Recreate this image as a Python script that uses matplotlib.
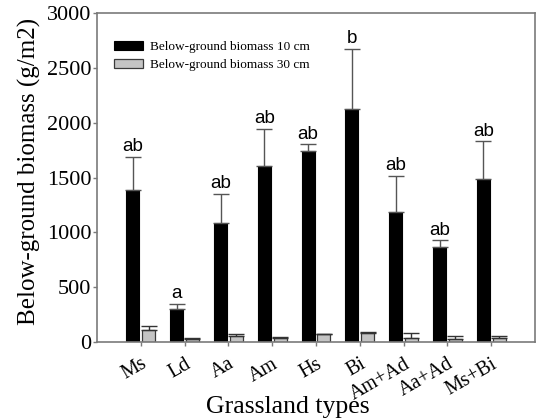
import numpy as np
import matplotlib
matplotlib.use("Agg")
import matplotlib.pyplot as plt

types = ["Ms", "Ld", "Aa", "Am", "Hs", "Bi", "Am+Ad", "Aa+Ad", "Ms+Bi"]
bio_10 = [1385, 304, 1090, 1609, 1745, 2124, 1183, 868, 1487]
err_10 = [305, 47, 263, 338, 60, 551, 332, 62, 345]
bio_30 = [107, 27, 58, 40, 70, 80, 40, 31, 40]
err_30 = [43, 10, 19, 5, 7, 12, 40, 27, 12]
letters = ["ab", "a", "ab", "ab", "ab", "b", "ab", "ab", "ab"]

serif = ["Liberation Serif", "DejaVu Serif"]
sans = ["Liberation Sans", "DejaVu Sans"]
grey = "#7a7a7a"

fig = plt.figure(figsize=(5.39, 4.19), dpi=100)
ax = fig.add_axes([97 / 539, 77 / 419, 438 / 539, 328.7 / 419])

x = np.arange(len(types))
w = 0.3
ax.bar(x - 0.18, bio_10, w, color="black", edgecolor="black", linewidth=0.8,
       label="Below-ground biomass 10 cm")
ax.bar(x + 0.18, bio_30, w, color="#c4c4c4", edgecolor="#3a3a3a", linewidth=0.9,
       label="Below-ground biomass 30 cm")
ax.errorbar(x - 0.18, bio_10, yerr=[np.zeros(len(x)), err_10], fmt="none",
            ecolor="#555555", elinewidth=1.0, capsize=5.5, capthick=1.0)
ax.errorbar(x + 0.18, bio_30, yerr=[np.zeros(len(x)), err_30], fmt="none",
            ecolor="#333333", elinewidth=1.0, capsize=5.5, capthick=1.0)

for xi, v, e, t in zip(x, bio_10, err_10, letters):
    ax.annotate(t, (xi - 0.18, v + e), xytext=(0, 4), textcoords="offset points",
                ha="center", va="baseline", fontsize=13.5, family=sans)

ax.set_xlim(-1, 9)
ax.set_ylim(0, 3000)
ax.set_yticks([0, 500, 1000, 1500, 2000, 2500, 3000])
ax.set_xticks(x)
ax.set_xticklabels(types, rotation=30, ha="right", rotation_mode="anchor",
                   family=serif, fontsize=14.5)
for lab in ax.get_yticklabels():
    lab.set_family(serif)
    lab.set_fontsize(16)
ax.tick_params(axis="both", direction="out", length=3, color=grey, width=1)
ax.tick_params(axis="y", pad=1)
ax.tick_params(axis="x", pad=6)
for s in ax.spines.values():
    s.set_color(grey)
    s.set_linewidth(1.2)

ax.set_ylabel("Below-ground biomass (g/m2)", family=serif, fontsize=18)
ax.yaxis.set_label_coords(-0.128, 0.52)
ax.set_xlabel("Grassland types", family=serif, fontsize=18.5)
ax.xaxis.set_label_coords(0.436, -0.165)

ax.legend(loc="upper left", bbox_to_anchor=(0.039, 0.915), frameon=False,
          prop={"family": serif, "size": 9.5}, handlelength=2.2, handleheight=0.6,
          handletextpad=0.5, labelspacing=0.45, borderpad=0, borderaxespad=0)

fig.savefig("out.png", dpi=100)
